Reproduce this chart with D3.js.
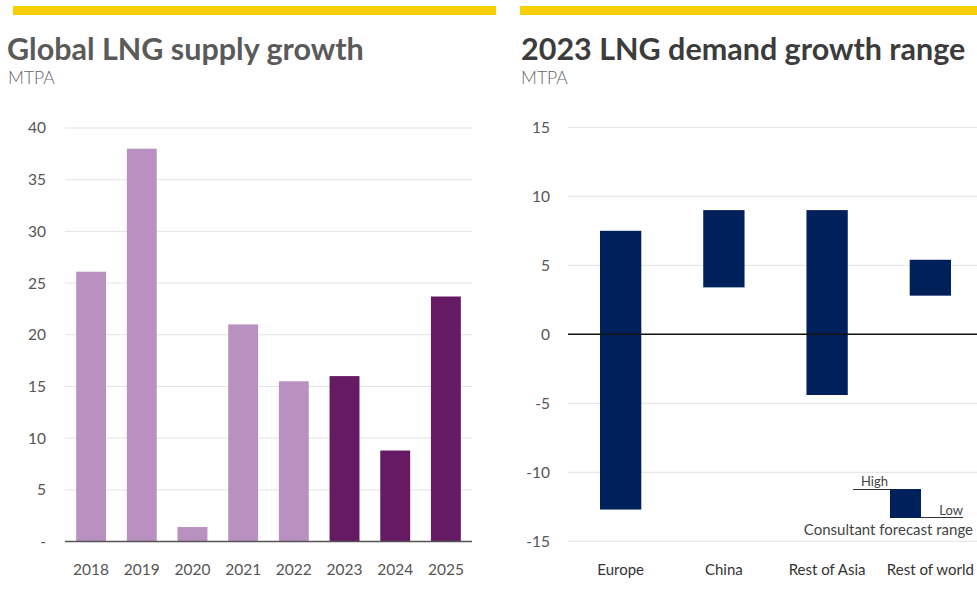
<!DOCTYPE html>
<html>
<head>
<meta charset="utf-8">
<script src="https://cdn.jsdelivr.net/npm/d3@7"></script>
<style>
  html, body { margin: 0; padding: 0; background: #fff; }
  svg { display: block; font-family: Lato, "Open Sans", sans-serif; }
</style>
</head>
<body>
<svg id="chart" width="977" height="600"></svg>
<script>
// Global LNG supply growth (MTPA)
const supplyYears = ["2018", "2019", "2020", "2021", "2022", "2023", "2024", "2025"];
const supplyValues = [26.1, 38.0, 1.4, 21.0, 15.5, 16.0, 8.8, 23.7];
const supplyKind = ["actual", "actual", "actual", "actual", "actual", "forecast", "forecast", "forecast"];
const supplyTicks = [0, 5, 10, 15, 20, 25, 30, 35, 40];

// 2023 LNG demand growth range (MTPA)
const demandRegions = ["Europe", "China", "Rest of Asia", "Rest of world"];
const demandLow = [-12.7, 3.4, -4.4, 2.8];
const demandHigh = [7.5, 9.0, 9.0, 5.4];
const demandTicks = [-15, -10, -5, 0, 5, 10, 15];

const svg = d3.select("#chart");
const yellow = "#F7CE00";
const gridColor = "#e3e3e3";
const labelColor = "#555";

// ---------- Left panel ----------
svg.append("rect").attr("x", 13).attr("y", 6).attr("width", 483).attr("height", 9).attr("fill", yellow);
svg.append("text").attr("x", 7).attr("y", 60)
  .attr("font-size", 30.5).attr("font-weight", 700).attr("fill", "#5a5a5a")
  .text("Global LNG supply growth");
svg.append("text").attr("x", 8).attr("y", 84)
  .attr("font-size", 17.5).attr("font-weight", 300).attr("fill", "#666").text("MTPA");

const xL = d3.scaleBand().domain(supplyYears).range([65, 472]).paddingInner(0.41).paddingOuter(0.22);
const yL = d3.scaleLinear().domain([0, 40]).range([541.5, 128]);

const left = svg.append("g");
left.append("g").selectAll("line").data(supplyTicks.filter(d => d !== 0)).join("line")
  .attr("x1", 65).attr("x2", 472)
  .attr("y1", d => yL(d)).attr("y2", d => yL(d))
  .attr("stroke", gridColor).attr("stroke-width", 1);

left.append("g").call(d3.axisLeft(yL).tickValues(supplyTicks).tickSize(0).tickPadding(0)
    .tickFormat(d => d === 0 ? "-" : d))
  .attr("transform", "translate(46,0)")
  .call(g => g.select(".domain").remove())
  .call(g => g.selectAll("text").attr("font-size", 15.5).attr("fill", labelColor)
    .attr("font-family", "Lato, sans-serif"));

left.append("g").selectAll("rect").data(supplyValues).join("rect")
  .attr("x", (d, i) => xL(supplyYears[i]))
  .attr("width", xL.bandwidth())
  .attr("y", d => yL(d))
  .attr("height", d => yL(0) - yL(d))
  .attr("fill", (d, i) => supplyKind[i] === "forecast" ? "#651A63" : "#B991C0");

left.append("line").attr("x1", 65).attr("x2", 472)
  .attr("y1", yL(0)).attr("y2", yL(0)).attr("stroke", "#555").attr("stroke-width", 1.6);

left.append("g").call(d3.axisBottom(xL).tickSize(0).tickPadding(0))
  .attr("transform", "translate(0,575)")
  .call(g => g.select(".domain").remove())
  .call(g => g.selectAll("text").attr("font-size", 15.5).attr("fill", labelColor)
    .attr("font-family", "Lato, sans-serif").attr("dy", 0));

// ---------- Right panel ----------
svg.append("rect").attr("x", 520).attr("y", 6).attr("width", 460).attr("height", 9).attr("fill", yellow);
svg.append("text").attr("x", 521).attr("y", 60)
  .attr("font-size", 30.5).attr("font-weight", 700).attr("fill", "#3c3c3c")
  .text("2023 LNG demand growth range");
svg.append("text").attr("x", 521).attr("y", 84)
  .attr("font-size", 17.5).attr("font-weight", 300).attr("fill", "#666").text("MTPA");

const xR = d3.scaleBand().domain(demandRegions).range([568, 983]).paddingInner(0.6).paddingOuter(0.31);
const yR = d3.scaleLinear().domain([-15, 15]).range([541.3, 127.3]);

const right = svg.append("g");
right.append("g").selectAll("line").data(demandTicks.filter(d => d !== 0)).join("line")
  .attr("x1", 568).attr("x2", 977)
  .attr("y1", d => yR(d)).attr("y2", d => yR(d))
  .attr("stroke", gridColor).attr("stroke-width", 1);

right.append("g").call(d3.axisLeft(yR).tickValues(demandTicks).tickSize(0).tickPadding(0)
    .tickFormat(d => d < 0 ? "-" + Math.abs(d) : d))
  .attr("transform", "translate(550,0)")
  .call(g => g.select(".domain").remove())
  .call(g => g.selectAll("text").attr("font-size", 15.5).attr("fill", labelColor)
    .attr("font-family", "Lato, sans-serif"));

right.append("g").selectAll("rect").data(demandRegions).join("rect")
  .attr("x", d => xR(d))
  .attr("width", xR.bandwidth())
  .attr("y", (d, i) => yR(demandHigh[i]))
  .attr("height", (d, i) => yR(demandLow[i]) - yR(demandHigh[i]))
  .attr("fill", "#00205B");

right.append("line").attr("x1", 568).attr("x2", 977)
  .attr("y1", yR(0)).attr("y2", yR(0)).attr("stroke", "#111").attr("stroke-width", 1.5);

right.append("g").call(d3.axisBottom(xR).tickSize(0).tickPadding(0))
  .attr("transform", "translate(0,575)")
  .call(g => g.select(".domain").remove())
  .call(g => g.selectAll("text").attr("font-size", 15).attr("fill", "#333")
    .attr("font-family", "Lato, sans-serif").attr("dy", 0));

// Legend: explains the range bars
const lg = svg.append("g");
lg.append("rect").attr("x", 890).attr("y", 489).attr("width", 31).attr("height", 29).attr("fill", "#00205B");
lg.append("line").attr("x1", 853).attr("x2", 890).attr("y1", 489.5).attr("y2", 489.5)
  .attr("stroke", "#333").attr("stroke-width", 1);
lg.append("line").attr("x1", 921).attr("x2", 963).attr("y1", 517.5).attr("y2", 517.5)
  .attr("stroke", "#333").attr("stroke-width", 1);
lg.append("text").attr("x", 888).attr("y", 486).attr("text-anchor", "end")
  .attr("font-size", 13).attr("fill", "#444").text("High");
lg.append("text").attr("x", 963).attr("y", 515).attr("text-anchor", "end")
  .attr("font-size", 13).attr("fill", "#444").text("Low");
lg.append("text").attr("x", 973).attr("y", 535).attr("text-anchor", "end")
  .attr("font-size", 15).attr("fill", "#444").text("Consultant forecast range");
</script>
</body>
</html>
